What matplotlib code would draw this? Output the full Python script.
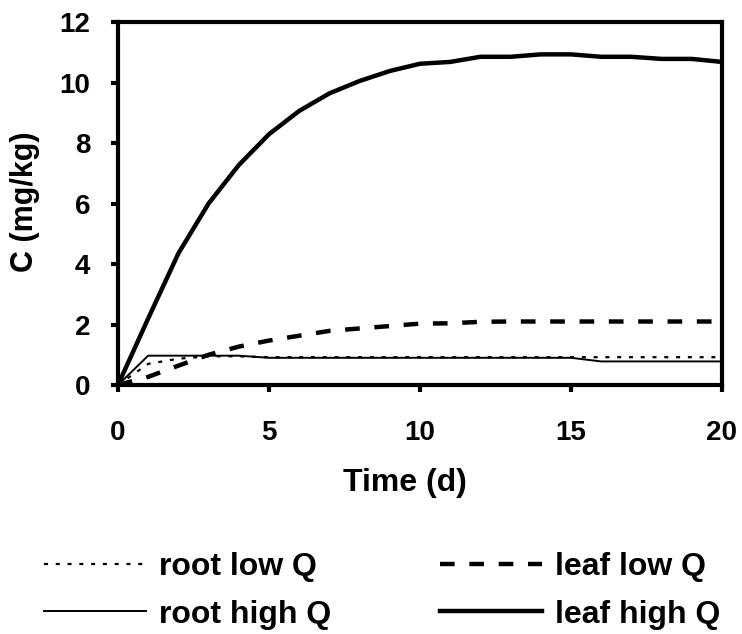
import numpy as np
import matplotlib.pyplot as plt

plt.rcParams['font.family'] = ['Liberation Sans', 'DejaVu Sans']
plt.rcParams['font.weight'] = 'bold'

days = np.arange(0, 21)

root_low = [0, 0.70, 0.87, 0.95, 0.95, 0.92, 0.92, 0.92, 0.92, 0.92, 0.92,
            0.92, 0.92, 0.92, 0.92, 0.92, 0.92, 0.92, 0.92, 0.92, 0.92]
root_high = [0, 0.97, 0.97, 0.97, 0.97, 0.90, 0.90, 0.90, 0.90, 0.90, 0.90,
             0.90, 0.90, 0.90, 0.90, 0.90, 0.78, 0.78, 0.78, 0.78, 0.78]
leaf_low = [0, 0.27, 0.64, 1.00, 1.27, 1.47, 1.63, 1.79, 1.87, 1.95, 2.03,
            2.04, 2.09, 2.10, 2.10, 2.10, 2.10, 2.10, 2.10, 2.10, 2.10]
leaf_high = [0, 2.20, 4.35, 6.00, 7.27, 8.29, 9.06, 9.64, 10.05, 10.38, 10.62,
             10.68, 10.85, 10.85, 10.93, 10.93, 10.85, 10.85, 10.78, 10.78, 10.68]

fig = plt.figure(figsize=(7.42, 6.34), dpi=100)
ax = fig.add_axes([0.159, 0.3927, 0.814, 0.5726])

l1, = ax.plot(days, root_low, color='black', lw=1.6, ls=(0, (1.8, 3.5)), label='root low Q')
l2, = ax.plot(days, root_high, color='black', lw=1.4, label='root high Q')
l3, = ax.plot(days, leaf_low, color='black', lw=3.2, ls=(0, (3.3, 3.3)), label='leaf low Q')
l4, = ax.plot(days, leaf_high, color='black', lw=3.2, label='leaf high Q')

ax.set_xlim(0, 20)
ax.set_ylim(0, 12)
ax.set_xticks([0, 5, 10, 15, 20])
ax.set_yticks(range(0, 13, 2))
for s in ax.spines.values():
    s.set_linewidth(3)
ax.tick_params(axis='both', width=3, length=5, labelsize=20, direction='out')
ax.tick_params(axis='x', pad=20)
ax.tick_params(axis='y', pad=15)

# axis titles placed in figure coords
fig.text(405 / 742, 1 - 483 / 634, 'Time (d)', fontsize=23, fontweight='bold',
         ha='center', va='center')
fig.text(25 / 742, 1 - 202 / 634, 'C (mg/kg)', fontsize=22, fontweight='bold',
         ha='center', va='center', rotation=90)

fig.legend(handles=[l1, l2, l3, l4], loc='center', bbox_to_anchor=(0.515, 0.068),
           ncol=2, frameon=False, fontsize=23, handlelength=3.2,
           handletextpad=0.4, columnspacing=3.4, labelspacing=0.55)

fig.savefig('out.png', dpi=100)
